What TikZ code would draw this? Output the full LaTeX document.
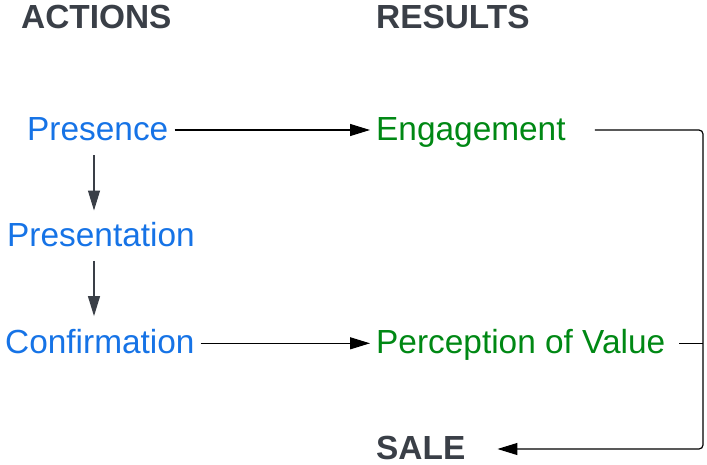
\documentclass[tikz,border=0pt]{standalone}
\usepackage{fontspec}
\setmainfont{Liberation Sans}
\usetikzlibrary{arrows.meta}
\definecolor{actblue}{RGB}{22,115,230}
\definecolor{resgreen}{RGB}{0,136,20}
\definecolor{headgray}{RGB}{58,63,71}
\begin{document}
\begin{tikzpicture}[x=1pt,y=-1pt,
  lbl/.style={inner sep=0pt, anchor=base west, text height=26pt, text depth=6pt, font=\fontsize{33.4}{36}\selectfont},
  act/.style={lbl, text=actblue},
  res/.style={lbl, text=resgreen},
  head/.style={lbl, text=headgray, text height=24pt, text depth=4pt, font=\fontsize{33.4}{36}\selectfont\bfseries},
  conn/.style={line width=1.2pt, -{Triangle[length=20pt,width=12pt]}},
  hconn/.style={conn, draw=black},
  vconn/.style={conn, draw=headgray}
]
\useasboundingbox (0,0) rectangle (707,464);
\node[head] (actions) at (21,28.5) {ACTIONS};
\node[head] (results) at (376,28.5) {RESULTS};
\node[act] (pres) at (27,140) {Presence};
\node[act] (prest) at (7,246.7) {Presentation};
\node[act] (conf) at (5,353.3) {Confirmation};
\node[res] (eng) at (376,140) {Engagement};
\node[res] (perc) at (376,353.3) {Perception of Value};
\node[head] (sale) at (376,459) {SALE};
\coordinate (ax) at (94,0);
\coordinate (rx) at (703,0);
\draw[hconn, shorten <=6pt, shorten >=6pt] (pres.east) -- (eng.west);
\draw[hconn, shorten <=6pt, shorten >=6pt] (conf.east) -- (perc.west);
\draw[vconn] ([yshift=-9pt]pres.south -| ax) -- ([yshift=10pt]prest.north -| ax);
\draw[vconn] ([yshift=-8pt]prest.south -| ax) -- ([yshift=11pt]conf.north -| ax);
\draw[hconn, rounded corners=4pt] ([xshift=29pt]eng.east) -- (eng.east -| rx) -- (sale.east -| rx) -- ([xshift=32pt]sale.east);
\draw[line width=1.2pt] ([xshift=14pt]perc.east) -- (perc.east -| rx);
\end{tikzpicture}
\end{document}
